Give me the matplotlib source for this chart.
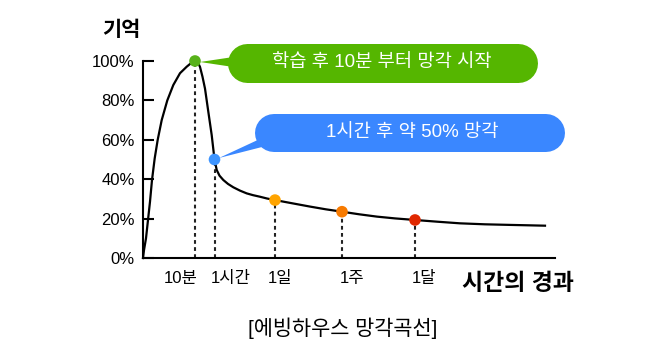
import matplotlib
matplotlib.use("Agg")
import matplotlib.pyplot as plt
from matplotlib.patches import Polygon

plt.rcParams['font.family'] = ['Liberation Sans', 'Noto Sans CJK KR', 'DejaVu Sans']

# 망각곡선 (x: 가로축 위치, y: 기억 %)
curve_x = [0, 1, 3, 5, 7, 9, 11.7, 14.7, 18.7, 24.3, 30.3, 37, 43.7, 48, 52,
           55, 57, 59.5, 62, 65.3, 68.7, 71.5,
           73.7, 76.5, 80.3, 85, 90.3, 97, 103.7, 110, 117, 124, 132,
           150, 167, 183, 199, 216, 234, 252, 272, 295, 317, 342, 367, 385, 402]
curve_y = [0, 4, 10, 19.3, 28.6, 39.6, 50.6, 60, 70, 80, 87.8, 93.8, 97.1, 98.9, 100,
           99.2, 97, 92, 86, 74.3, 62.4, 50,
           44.7, 41.8, 39.6, 37.6, 35.9, 34.2, 32.8, 31.9, 31.1, 30.2, 29.4,
           27.7, 26.1, 24.7, 23.5, 22.2, 21, 20.1, 19.3, 18.4, 17.6, 17.1, 16.8, 16.6, 16.4]

# 표시 지점
point_x = [52, 71.5, 132, 199, 272]
point_y = [100, 50, 29.4, 23.5, 19.3]
point_colors = ['#58b21a', '#3d94ff', '#ffa400', '#f77a00', '#e02800']

# 축 라벨
tick_pos = [37.5, 88, 137, 209, 281]
tick_labels = ['10분', '1시간', '1일', '1주', '1달']
y_ticks = [0, 20, 40, 60, 80, 100]
y_labels = ['0%', '20%', '40%', '60%', '80%', '100%']

W, H = 668, 353
fig = plt.figure(figsize=(W / 100, H / 100), dpi=100)

# 말풍선용 배경 축 (픽셀 좌표)
ov = fig.add_axes([0, 0, 1, 1], zorder=0)
ov.set_xlim(0, W)
ov.set_ylim(H, 0)
ov.axis('off')

ax = fig.add_axes([143 / W, (H - 258) / H, 412 / W, 197 / H], zorder=1)
ax.patch.set_visible(False)
ax.set_xlim(0, 412)
ax.set_ylim(0, 100)

ax.plot(curve_x, curve_y, color='black', lw=1.6, clip_on=False, zorder=2,
        solid_joinstyle='round')
for px, py in zip(point_x, point_y):
    ax.plot([px, px], [0, py], color='#222222', lw=1.5, ls=(0, (1.8, 1.6)), zorder=1)
ax.scatter(point_x, point_y, s=70, c=point_colors, zorder=3, clip_on=False, linewidths=0)

for side in ['top', 'right']:
    ax.spines[side].set_visible(False)
for side in ['left', 'bottom']:
    ax.spines[side].set_linewidth(1.5)

ax.set_yticks(y_ticks)
ax.set_yticklabels(y_labels, fontsize=12)
ax.tick_params(axis='y', direction='in', length=8, width=1.5, pad=6)
ax.set_xticks(tick_pos)
ax.set_xticklabels(tick_labels, fontsize=12)
ax.tick_params(axis='x', length=0, pad=9)

fig.text(121 / W, 1 - 30 / H, '기억', fontsize=15, fontweight='bold', ha='center', va='center')
fig.text(518 / W, 1 - 283 / H, '시간의 경과', fontsize=16.5, fontweight='bold', ha='center', va='center')
fig.text(343 / W, 1 - 328 / H, '[에빙하우스 망각곡선]', fontsize=15, ha='center', va='center')


def pill(x0, x1, yc, h, color):
    # 둥근 끝 굵은 선으로 알약 모양 상자
    ov.plot([x0 + h / 2, x1 - h / 2], [yc, yc], color=color, lw=h * 0.72,
            solid_capstyle='round')


# 말풍선
green = '#55b600'
blue = '#3a87ff'
ov.add_patch(Polygon([(200, 62), (240, 56), (240, 68)], closed=True, color=green, lw=0))
pill(227, 537, 62.5, 39, green)
ov.text(382, 63, '학습 후 10분 부터 망각 시작', color='white', fontsize=13.5, ha='center', va='center')

ov.add_patch(Polygon([(219, 158), (262, 138), (262, 147)], closed=True, color=blue, lw=0))
pill(255, 565, 133, 38, blue)
ov.text(412, 133, '1시간 후 약 50% 망각', color='white', fontsize=13.5, ha='center', va='center')

fig.savefig('out.png', dpi=100)
